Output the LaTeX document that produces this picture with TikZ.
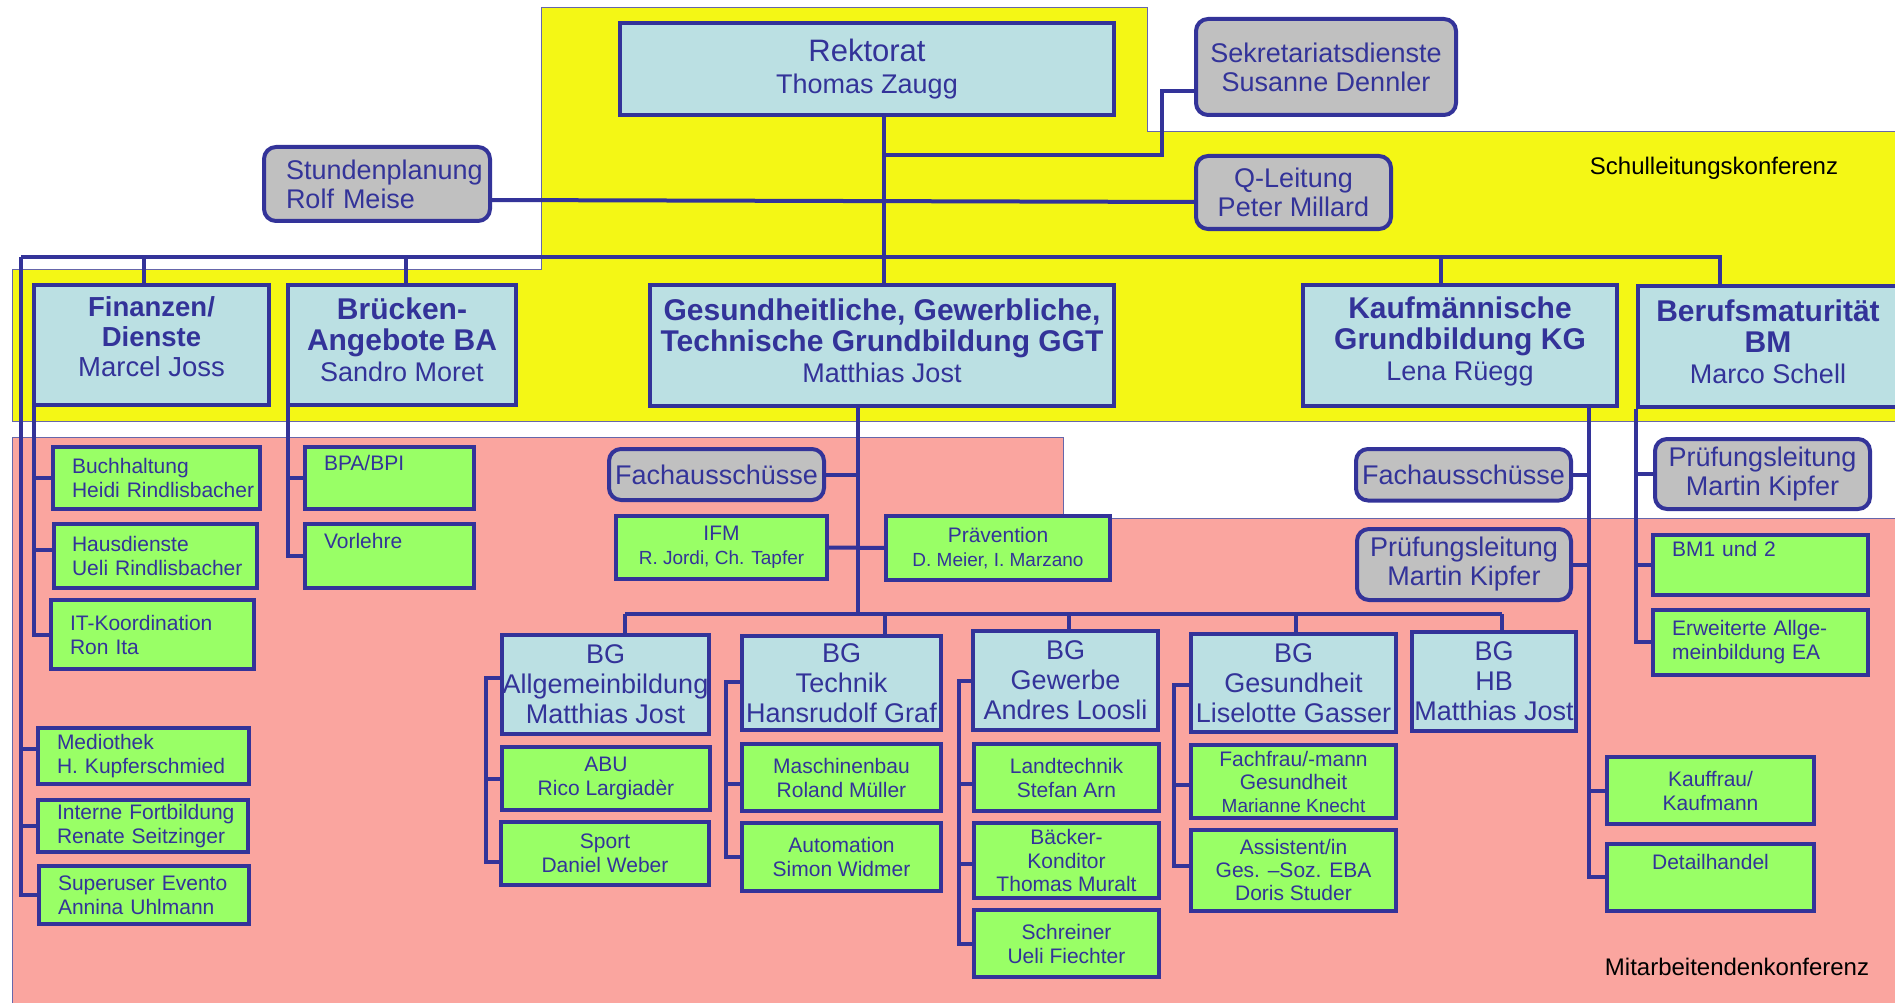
\documentclass[tikz,border=0pt]{standalone}
\usepackage{fontspec}
\setmainfont{Liberation Sans}
\usetikzlibrary{calc}
\definecolor{bl}{HTML}{333399}
\definecolor{lb}{HTML}{BBE0E3}
\definecolor{gr}{HTML}{99FF66}
\definecolor{gy}{HTML}{C0C0C0}
\definecolor{ye}{HTML}{F4F715}
\definecolor{pk}{HTML}{FAA59F}
\definecolor{frm}{HTML}{6666AA}
\pgfdeclarelayer{bg}
\pgfdeclarelayer{ln}
\pgfsetlayers{bg,ln,main}
\tikzset{
  base/.style={draw=bl, line width=4pt, text=bl, inner sep=0pt, outer sep=0pt, align=center},
  lbox/.style={base, fill=lb, font=\fontsize{27}{30}\selectfont},
  hbox/.style={base, fill=lb, font=\fontsize{30}{31}\selectfont},
  gbox/.style={base, fill=gr, font=\fontsize{21}{24}\selectfont},
  grbox/.style={base, fill=gy, rounded corners=12pt, font=\fontsize{27}{29}\selectfont},
  sz/.style 2 args={minimum width=#1pt, minimum height=#2pt},
  lft/.style={align=left, text width=#1pt},
  con/.style={draw=bl, line width=4pt},
  conf/.style={text=black, font=\fontsize{24}{26}\selectfont, inner sep=0pt}
}
\begin{document}
\begin{tikzpicture}[x=1pt,y=-1pt]
\useasboundingbox (0,0) rectangle (1895,1003);
\begin{pgfonlayer}{bg}
\fill[ye, draw=frm, line width=1pt] (541,8) -- (1147,8) -- (1147,132) -- (1895,132) -- (1895,421) -- (12,421) -- (12,269) -- (541,269) -- cycle;
\fill[pk, draw=frm, line width=1pt] (12,437) -- (1063,437) -- (1063,518) -- (1895,518) -- (1895,1003) -- (12,1003) -- cycle;
\end{pgfonlayer}

% top level
\node[lbox, sz={494}{92}, font=\fontsize{31}{32}\selectfont] (rekt) at (867,69) {Rektorat\\{\fontsize{27}{32}\selectfont Thomas Zaugg}};
\node[grbox, sz={260}{96}] (sekr) at (1326,67) {Sekretariatsdienste\\Susanne Dennler};
\node[grbox, sz={226}{74}, lft=182] (stund) at (377,184) {\mbox{Stundenplanung}\\\mbox{Rolf Meise}};
\node[grbox, sz={195}{73}] (qlei) at (1293.5,192.5) {Q-Leitung\\Peter Millard};

% departments
\node[hbox, sz={235}{120}, font=\fontsize{27.5}{30}\selectfont] (fin) at (151.5,345) {\textbf{Finanzen/}\\\textbf{Dienste}\\Marcel Joss\\[-14pt]\mbox{}};
\node[hbox, sz={228}{120}] (bru) at (402,345) {\textbf{Brücken-}\\\textbf{Angebote BA}\\{\fontsize{27}{31}\selectfont Sandro Moret}\\[-21pt]\mbox{}};
\node[hbox, sz={464}{121}] (ggt) at (882,345.5) {\textbf{Gesundheitliche, Gewerbliche,}\\\textbf{Technische Grundbildung GGT}\\{\fontsize{27}{31}\selectfont Matthias Jost}\\[-21pt]\mbox{}};
\node[hbox, sz={314}{121}] (kg) at (1460,345.5) {\textbf{Kaufmännische}\\\textbf{Grundbildung KG}\\{\fontsize{27}{31}\selectfont Lena Rüegg}\\[-17pt]\mbox{}};
\node[hbox, sz={260}{121}] (bm) at (1768,346.5) {\textbf{Berufsmaturität}\\\textbf{BM}\\{\fontsize{27}{31}\selectfont Marco Schell}\\[-21pt]\mbox{}};

% Finanzen / Dienste
\node[gbox, sz={207}{62}, lft=169] (buch) at (156.5,478) {\mbox{Buchhaltung}\\\mbox{Heidi Rindlisbacher}};
\node[gbox, sz={203}{64}, lft=167] (haus) at (155.5,556) {\mbox{Hausdienste}\\\mbox{Ueli Rindlisbacher}};
\node[gbox, sz={203}{69}, lft=165] (itk) at (152.5,634.5) {\mbox{IT-Koordination}\\\mbox{Ron Ita}};
\node[gbox, sz={211}{56}, lft=173] (medio) at (143.5,756) {\mbox{Mediothek}\\\mbox{H. Kupferschmied}};
\node[gbox, sz={210}{52}, lft=172] (intf) at (143,826) {\mbox{Interne Fortbildung}\\\mbox{Renate Seitzinger}};
\node[gbox, sz={210}{58}, lft=172] (super) at (144,895) {\mbox{Superuser Evento}\\\mbox{Annina Uhlmann}};

% Bruecken
\node[gbox, sz={169}{62}, lft=131] (bpa) at (389.5,478) {\mbox{BPA/BPI}\\\strut};
\node[gbox, sz={169}{64}, lft=131] (vorl) at (389.5,556) {\mbox{Vorlehre}\\\strut};

% GGT
\node[grbox, sz={215}{51}] (fach1) at (716.5,474.5) {Fachausschüsse};
\node[gbox, sz={211}{63}] (ifm) at (721.5,547.5) {IFM\\{\fontsize{19}{24}\selectfont R. Jordi, Ch. Tapfer}};
\node[gbox, sz={224}{64}] (prae) at (998,548) {Prävention\\{\fontsize{19}{24}\selectfont D. Meier, I. Marzano}};

\node[lbox, sz={207}{99}] (bgallg) at (605.5,684.5) {BG\\Allgemeinbildung\\Matthias Jost};
\node[lbox, sz={199}{94}] (bgtech) at (841.5,683) {BG\\Technik\\Hansrudolf Graf};
\node[lbox, sz={185}{99}] (bggew) at (1065.5,680.5) {BG\\Gewerbe\\Andres Loosli};
\node[lbox, sz={205}{98}] (bgges) at (1293.5,683) {BG\\Gesundheit\\Liselotte Gasser};
\node[lbox, sz={164}{99}] (bghb) at (1494,681.5) {BG\\HB\\Matthias Jost};

\node[gbox, sz={208}{63}] (abu) at (606,778.5) {ABU\\Rico Largiadèr};
\node[gbox, sz={208}{63}] (sport) at (605,853.5) {Sport\\Daniel Weber};
\node[gbox, sz={199}{67}] (masch) at (841.5,777.5) {Maschinenbau\\Roland Müller};
\node[gbox, sz={199}{68}] (auto) at (841.5,857) {Automation\\Simon Widmer};
\node[gbox, sz={185}{67}] (land) at (1066.5,777.5) {Landtechnik\\Stefan Arn};
\node[gbox, sz={185}{75}, font=\fontsize{21}{23.5}\selectfont] (baeck) at (1066.5,860.5) {Bäcker-\\Konditor\\Thomas Muralt};
\node[gbox, sz={185}{67}] (schrein) at (1066.5,943.75) {Schreiner\\Ueli Fiechter};
\node[gbox, sz={205}{73}, font=\fontsize{21}{23}\selectfont] (fachfrau) at (1293.5,781.5) {Fachfrau/-mann\\Gesundheit\\{\fontsize{19}{23}\selectfont Marianne Knecht}};
\node[gbox, sz={205}{81}, font=\fontsize{21}{23}\selectfont] (assist) at (1293.5,870.3) {Assistent/in\\Ges. –Soz. EBA\\Doris Studer};

% KG
\node[grbox, sz={215}{51.5}] (fach2) at (1463.5,474.75) {Fachausschüsse};
\node[grbox, sz={214}{71}] (pruef1) at (1464,564.5) {Prüfungsleitung\\Martin Kipfer};
\node[gbox, sz={207}{67}] (kauf) at (1710.5,790.5) {Kauffrau/\\Kaufmann};
\node[gbox, sz={207}{66.5}] (detail) at (1710.5,877.25) {Detailhandel\\\strut};

% BM
\node[grbox, sz={215}{70}] (pruef2) at (1762.5,474) {Prüfungsleitung\\Martin Kipfer};
\node[gbox, sz={215}{60}, lft=177] (bm12) at (1760.5,564.8) {\mbox{BM1 und 2}\\\strut};
\node[gbox, sz={215}{64.5}, lft=177] (erw) at (1760.5,642.25) {\mbox{Erweiterte Allge-}\\\mbox{meinbildung EA}};

% conference labels
\node[conf] (slk) at (1714,168) {Schulleitungskonferenz};
\node[conf] (mak) at (1737,967) {Mitarbeitendenkonferenz};

% junction coordinates
\coordinate (jR) at (884,155);
\coordinate (jS) at (1162,91);
\coordinate (busL) at (21,257);
\coordinate (busR) at (1720,257);
\coordinate (dFin) at (144,257);
\coordinate (dBru) at (406,257);
\coordinate (dKG) at (1441,257);
\coordinate (fi) at (34,407);
\coordinate (bj) at (288,407);
\coordinate (gj) at (858,408);
\coordinate (gb) at (858,614);
\coordinate (bgL) at (625,614);
\coordinate (bgR) at (1502,614);
\coordinate (dT) at (885,614);
\coordinate (dG) at (1069,614);
\coordinate (dH) at (1296,614);
\coordinate (ba) at (486,678);
\coordinate (bt) at (725.5,682);
\coordinate (bw) at (958.6,681);
\coordinate (bs) at (1174,684.7);
\coordinate (kj) at (1589,408);
\coordinate (mj) at (1636,409);

\begin{pgfonlayer}{ln}
\draw[con] (rekt.south -| jR) -- (ggt.north -| jR);
\draw[con] (jR) -| (jS) -- (jS -| sekr.west);
\draw[con] ([yshift=-16pt]stund.east) -- ([yshift=-9.5pt]qlei.west);
\draw[con] (busL) -- (busR) -- (busR |- bm.north);
\draw[con] (dFin) -- (dFin |- fin.north);
\draw[con] (dBru) -- (dBru |- bru.north);
\draw[con] (dKG) -- (dKG |- kg.north);
% Finanzen
\draw[con] (busL) |- (super.west);
\draw[con] (busL |- intf.west) -- (intf.west);
\draw[con] (busL |- 0,749) -- (medio.west |- 0,749);
\draw[con] (fi) |- (itk.west);
\draw[con] (fi |- buch.west) -- (buch.west);
\draw[con] (fi |- 0,550) -- (haus.west |- 0,550);
% Bruecken
\draw[con] (bj) |- (vorl.west);
\draw[con] (bj |- bpa.west) -- (bpa.west);
% GGT
\draw[con] (gj) -- (gb);
\draw[con] (gj |- fach1.east) -- (fach1.east);
\draw[con] (ifm.east) -- (prae.west);
\draw[con] (bgL) -- (bgR);
\draw[con] (bgL) -- (bgL |- bgallg.north);
\draw[con] (dT) -- (dT |- bgtech.north);
\draw[con] (dG) -- (dG |- bggew.north);
\draw[con] (dH) -- (dH |- bgges.north);
\draw[con] (bgR) -- (bgR |- bghb.north);
\draw[con] (ba -| bgallg.west) -- (ba) |- ([yshift=-8.5pt]sport.west);
\draw[con] (ba |- abu.west) -- (abu.west);
\draw[con] (bt -| bgtech.west) -- (bt) |- (auto.west);
\draw[con] (bt |- 0,784) -- (masch.west |- 0,784);
\draw[con] (bw -| bggew.west) -- (bw) |- (schrein.west);
\draw[con] (bw |- 0,784) -- (land.west |- 0,784);
\draw[con] (bw |- 0,864) -- (baeck.west |- 0,864);
\draw[con] (bs -| bgges.west) -- (bs) |- (assist.west |- 0,866);
\draw[con] (bs |- 0,785) -- (fachfrau.west |- 0,785);
% KG
\draw[con] (kj) |- (detail.west);
\draw[con] (kj |- fach2.east) -- (fach2.east);
\draw[con] (kj |- pruef1.east) -- (pruef1.east);
\draw[con] (kj |- kauf.west) -- (kauf.west);
% BM
\draw[con] (mj) |- (erw.west);
\draw[con] (mj |- pruef2.west) -- (pruef2.west);
\draw[con] (mj |- bm12.west) -- (bm12.west);
\end{pgfonlayer}
\end{tikzpicture}
\end{document}
